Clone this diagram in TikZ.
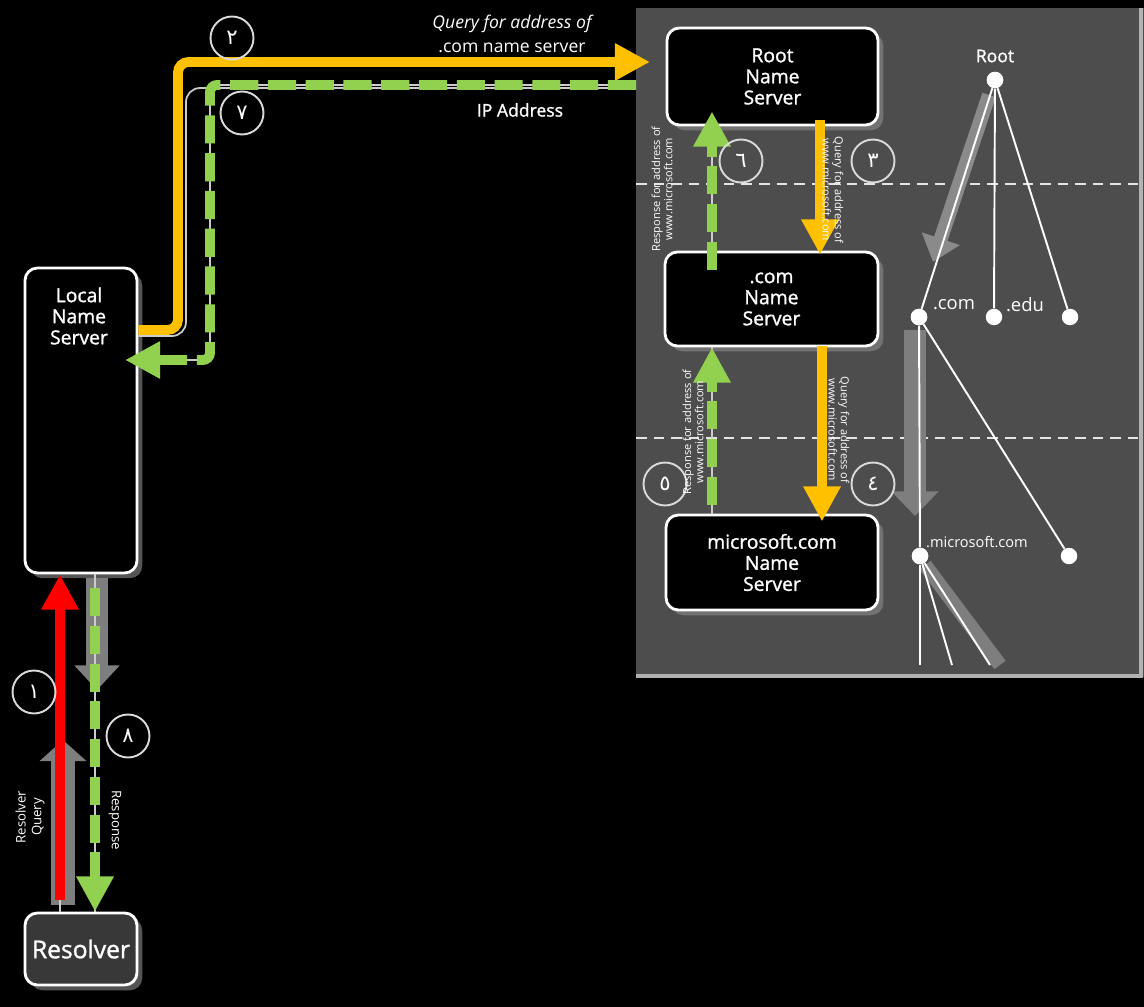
\documentclass[tikz,border=0pt]{standalone}
\usepackage{fontspec}
\setmainfont{Open Sans}
\newfontfamily\semib[FakeBold=1.3]{Open Sans}
\newfontfamily\arabicfont[Script=Arabic]{DejaVu Sans}
\usetikzlibrary{arrows.meta,calc,shadows}
\definecolor{panel}{HTML}{4D4D4D}
\definecolor{ora}{HTML}{FFC000}
\definecolor{grn}{HTML}{92D050}
\definecolor{redc}{HTML}{FF0000}
\definecolor{band}{HTML}{7E7E7E}
\definecolor{lband}{HTML}{8A8A8A}
\begin{document}
\begin{tikzpicture}[x=0.02cm,y=-0.02cm,
  srv/.style={draw=white, line width=1.6pt, fill=black, rounded corners=7pt, text=white,
    align=center, inner sep=0pt, font=\semib\fontsize{11}{12}\selectfont,
    drop shadow={shadow xshift=3pt, shadow yshift=-3pt, fill=white!55!black, opacity=0.6}},
  txtw/.style={text=white, align=center, inner sep=0pt},
  num/.style={circle, draw=white!85!black, line width=1.1pt, minimum size=0.86cm, inner sep=0pt,
    text=white, font=\arabicfont\fontsize{12}{12}\selectfont},
  tiny/.style={text=white, align=center, inner sep=0pt, font=\fontsize{6.3}{7}\selectfont},
  dot/.style={circle, fill=white, minimum size=0.33cm, inner sep=0pt},
  tline/.style={draw=white, line width=1.1pt},
  guide/.style={draw=white!80!black, line width=1pt},
  head/.style={-{Triangle[width=20pt,length=20pt]}},
  oarrow/.style={draw=ora, line width=5.6pt, head},
  garrow/.style={draw=grn, line width=5.6pt, dash pattern=on 16pt off 5.5pt, head},
  rarrow/.style={draw=redc, line width=5.6pt, head},
  sep/.style={draw=white!90!black, line width=1.2pt, dash pattern=on 6pt off 4pt}
]
\fill[black] (0,0) rectangle (1144,1007);
\useasboundingbox (0,0) rectangle (1144,1007);

% panel
\fill[panel] (636,8) rectangle (1144,677);
\draw[white!70!black, line width=2pt] (636,676) -- (1141,676) -- (1141,8);
\draw[sep] (636,184) -- (1144,184);
\draw[sep] (636,438) -- (1144,438);

% tree
\node[dot] (troot) at (995,80) {};
\node[dot] (tcom) at (919,317) {};
\node[dot] (tedu) at (994,317) {};
\node[dot] (tthr) at (1070,317) {};
\node[dot] (tms) at (920,556) {};
\node[dot] (tfiv) at (1069,556) {};
\coordinate (tb1) at (920,665);
\coordinate (tb2) at (952,665);
\coordinate (tb3) at (990,665);
\coordinate (tb4) at (1000,665);
\draw[lband, line width=8pt, -{Triangle[width=22pt,length=14pt]}] (989,95) -- (933,262);
\draw[band, line width=12pt, -{Triangle[width=26pt,length=14pt]}] (915,330) -- (915,516);
\draw[band, line width=8pt] (925,565) -- (tb4);
\draw[tline] (troot) -- (tcom);
\draw[tline] (troot) -- (tedu);
\draw[tline] (troot) -- (tthr);
\draw[tline] (tcom) -- (tms);
\draw[tline] (tms) -- (tb1);
\draw[tline] (tcom) -- (tfiv);
\draw[tline] (tms) -- (tb2);
\draw[tline] (tms) -- (tb3);
\node[dot] at (troot) {};
\node[dot] at (tcom) {};
\node[dot] at (tms) {};
\node[txtw, font=\semib\fontsize{10}{12}\selectfont] (lroot) at (995,56) {Root};
\node[txtw, font=\fontsize{10.5}{12}\selectfont] (lcom) at (954,305) {.com};
\node[txtw, font=\fontsize{10.5}{12}\selectfont] (ledu) at (1025,305) {.edu};
\node[txtw, font=\fontsize{8.3}{10}\selectfont] (lms) at (977,542) {.microsoft.com};

% left gray arrows
\draw[band, line width=13pt, -{Triangle[width=25pt,length=14pt]}] (97,578) -- (97,690);
\draw[band, line width=14pt, -{Triangle[width=26pt,length=12pt]}] (63,905) -- (63,740);

% boxes
\node[srv, minimum width=4.22cm, minimum height=1.94cm] (root) at (772.5,76.5) {Root\\Name\\Server};
\node[srv, minimum width=4.26cm, minimum height=1.88cm] (com) at (771.5,299) {.com\\Name\\Server};
\node[srv, minimum width=4.24cm, minimum height=1.9cm] (ms) at (772,562.5) {microsoft.com\\Name\\Server};
\node[srv, minimum width=2.24cm, minimum height=6.1cm] (lns) at (81,420.5) {};
\node[txtw, font=\semib\fontsize{11}{12}\selectfont] (lnst) at (79,316) {Local\\Name\\Server};
\node[srv, fill=white!22!black, minimum width=2.24cm, minimum height=1.44cm,
  font=\semib\fontsize{14}{16}\selectfont] (res) at (81,949) {Resolver};

% coordinates
\coordinate (q1) at (178,330);
\coordinate (q2) at (178,62);
\coordinate (q3) at (650,62);
\coordinate (w1) at (186,336);
\coordinate (w2) at (186,88);
\coordinate (w3) at (636,88);
\coordinate (g1) at (636,85);
\coordinate (g2) at (210,85);
\coordinate (g3) at (210,360);
\coordinate (g4) at (125,360);
\coordinate (x820) at (820,0);
\coordinate (x822) at (822,0);
\coordinate (x712) at (712,0);
\coordinate (x60) at (60,0);
\coordinate (x95) at (95,0);
\coordinate (rstart) at (60,900);
\coordinate (gstart) at (95,588);
\coordinate (p1) at (820,120);
\coordinate (p2) at (822,346);
\coordinate (p3) at (712,270);
\coordinate (p4) at (712,505);

% thin white guides
\draw[guide, rounded corners=8pt] (lns.east |- w1) -- (w1) -- (w2) -- (w3);
\draw[guide] (g1) -- (g2) -- (g3) -- (lns.east |- g3);
\draw[guide] (x712 |- root.south) -- (x712 |- com.north);
\draw[guide] (x712 |- com.south) -- (x712 |- ms.north);
\draw[guide] (x95 |- lns.south) -- (x95 |- res.north);
\draw[guide] (x60 |- rstart) -- (x60 |- res.north);

% colored arrows
\draw[oarrow, rounded corners=6pt] (lns.east |- q1) -- (q1) -- (q2) -- (q3);
\draw[garrow, rounded corners=4pt] (g1) -- (g2) -- (g3) -- (g4);
\draw[oarrow] (p1) -- ([yshift=-0.08cm]x820 |- com.north);
\draw[oarrow] (p2) -- ([yshift=-0.16cm]x822 |- ms.north);
\draw[garrow] (p3) -- ([yshift=0.3cm]x712 |- root.south);
\draw[garrow] (p4) -- (x712 |- com.south);
\draw[rarrow] (rstart) -- (x60 |- lns.south);
\draw[garrow] (gstart) -- (x95 |- res.north);

% numbered circles
\node[num] (n2) at (232,38) {٢};
\node[num] (n7) at (242,113) {٧};
\node[num] (n6) at (741,161) {٦};
\node[num] (n3) at (873,161) {٣};
\node[num] (n5) at (665,484) {٥};
\node[num] (n4) at (873,484) {٤};
\node[num] (n1) at (34,692) {١};
\node[num] (n8) at (128,736) {٨};

% labels
\node[txtw, font=\fontsize{10}{14}\selectfont] (lq) at (512,34) {\itshape Query for address of\\.com name server};
\node[txtw, font=\semib\fontsize{10}{12}\selectfont] (lip) at (520,110) {IP Address};
\node[tiny, rotate=90] (r1) at (662,189) {Response for address of\\www.microsoft.com};
\node[tiny, rotate=-90] (r2) at (833,190) {Query for address of\\www.microsoft.com};
\node[tiny, rotate=90] (r3) at (693,432) {Response for address of\\www.microsoft.com};
\node[tiny, rotate=-90] (r4) at (839,430) {Query for address of\\www.microsoft.com};
\node[txtw, rotate=90, font=\fontsize{7.5}{9}\selectfont] (r5) at (30,817) {Resolver\\Query};
\node[txtw, rotate=-90, font=\fontsize{7.5}{9}\selectfont] (r6) at (115,820) {Response};
\end{tikzpicture}
\end{document}
